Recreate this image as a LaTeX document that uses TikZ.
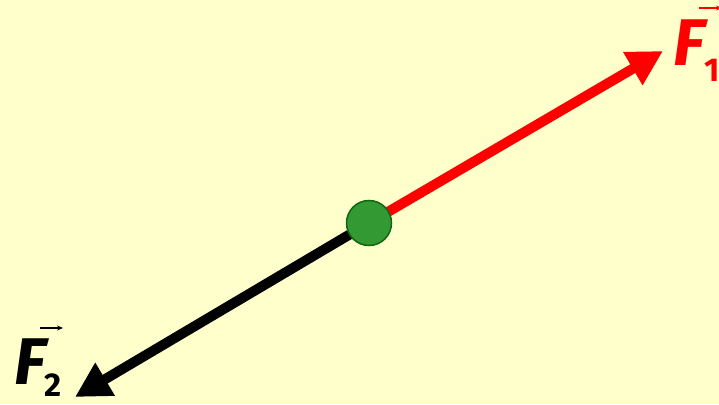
\documentclass[tikz,border=0pt]{standalone}
\usepackage{fontspec}
\newfontfamily\labfont{Fira Sans}
\usetikzlibrary{arrows.meta}
\definecolor{bg}{HTML}{FFFFCC}
\definecolor{ballfill}{HTML}{339933}
\definecolor{balldraw}{HTML}{116611}
\begin{document}
\begin{tikzpicture}[x=1pt,y=-1pt,
  force/.style={line width=10pt,-{Triangle[length=35pt,width=36pt]}},
  bigF/.style={inner sep=0pt,font=\labfont\bfseries\itshape\fontsize{66}{66}\selectfont},
  sub/.style={inner sep=0pt,font=\labfont\bfseries\fontsize{33}{33}\selectfont},
  vecarrow/.style={line width=1.2pt,-{Stealth[length=6pt,width=5pt]}}]
\useasboundingbox (0,0) rectangle (719,404);
\fill[bg] (0,0) rectangle (719,404);
\node (c) at (369,223) {};
\coordinate (t1) at (663,51);
\coordinate (t2) at (75,397);
\draw[force,red] (c.center) -- (t1);
\draw[force,black] (c.center) -- (t2);
\node[circle,fill=ballfill,draw=balldraw,line width=1.5pt,minimum size=45pt,inner sep=0pt] (ball) at (369,223) {};
% F1
\node[bigF,text=red] (f1) at (689,43) {F};
\node[sub,text=red] (s1) at (712,70) {1};
\coordinate (v1a) at (699,8);
\coordinate (v1b) at (722,8);
\draw[vecarrow,red] (v1a) -- (v1b);
% F2
\node[bigF,text=black] (f2) at (30,362) {F};
\node[sub,text=black] (s2) at (53,385) {2};
\coordinate (v2a) at (40,328);
\coordinate (v2b) at (63,328);
\draw[vecarrow,black] (v2a) -- (v2b);
\end{tikzpicture}
\end{document}
